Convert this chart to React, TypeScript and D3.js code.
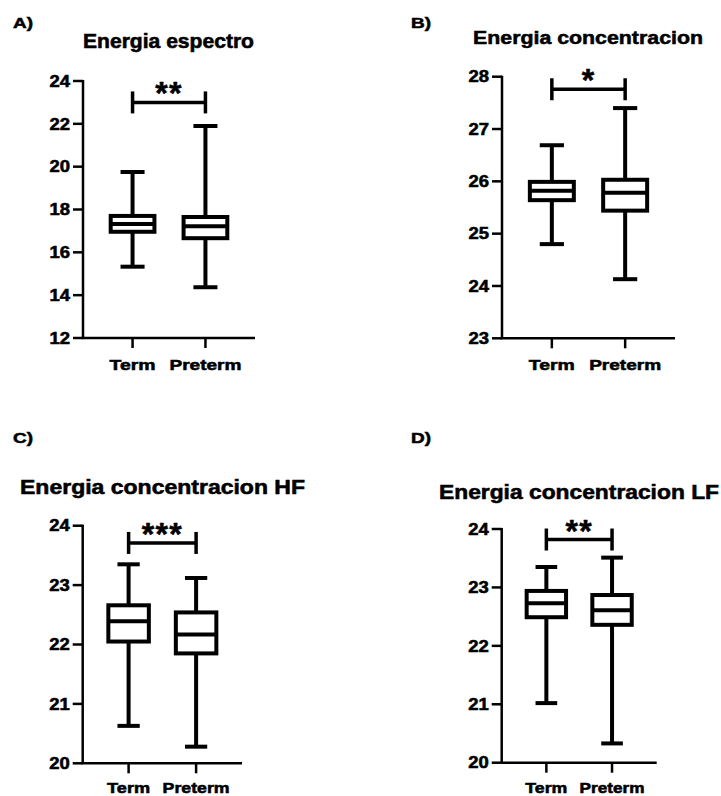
import React from "react";
import * as d3 from "d3";

// Groups compared in every panel
const categories = ["Term", "Preterm"];

// Panel labels, titles and significance marks
const panelIds = ["A)", "B)", "C)", "D)"];
const titles = [
  "Energia espectro",
  "Energia concentracion",
  "Energia concentracion HF",
  "Energia concentracion LF",
];
const significance = ["**", "*", "***", "**"];
// Height (in data units) of each significance bracket
const bracketLevels = [23.0, 27.76, 23.71, 23.82];

// Box statistics per group: [min, q1, median, q3, max]
const espectroTerm = [15.33, 16.96, 17.32, 17.7, 19.75];
const espectroPreterm = [14.37, 16.66, 17.22, 17.65, 21.9];
const concentracionTerm = [24.8, 25.64, 25.82, 25.99, 26.69];
const concentracionPreterm = [24.13, 25.44, 25.78, 26.03, 27.4];
const hfTerm = [20.63, 22.05, 22.39, 22.66, 23.35];
const hfPreterm = [20.28, 21.85, 22.17, 22.54, 23.12];
const lfTerm = [21.02, 22.49, 22.73, 22.94, 23.35];
const lfPreterm = [20.33, 22.36, 22.61, 22.87, 23.51];

// Y axis ticks per panel
const ticksEspectro = [12, 14, 16, 18, 20, 22, 24];
const ticksConcentracion = [23, 24, 25, 26, 27, 28];
const ticksHF = [20, 21, 22, 23, 24];
const ticksLF = [20, 21, 22, 23, 24];

const panelStats = [
  [espectroTerm, espectroPreterm],
  [concentracionTerm, concentracionPreterm],
  [hfTerm, hfPreterm],
  [lfTerm, lfPreterm],
];
const panelTicks = [ticksEspectro, ticksConcentracion, ticksHF, ticksLF];

// Placement of each panel on the page
const layouts = [
  { x0: 83, x1: 255, y0: 81, y1: 338, idX: 13, idY: 28, tX: 168.5, tY: 48, tW: 171, tS: 19.5, lS: 15.5, lW: [46, 72], lY: 32 },
  { x0: 502, x1: 675, y0: 76.7, y1: 338.3, idX: 411, idY: 28, tX: 588, tY: 44, tW: 230, tS: 19, lS: 15.5, lW: [46, 72], lY: 32 },
  { x0: 82.7, x1: 242, y0: 525.7, y1: 763.3, idX: 13, idY: 443, tX: 162.5, tY: 494, tW: 285, tS: 19.5, lS: 15, lW: [43, 67], lY: 29.5 },
  { x0: 501.7, x1: 656.7, y0: 529, y1: 762.7, idX: 411, idY: 443, tX: 579, tY: 499, tW: 280, tS: 19.5, lS: 15, lW: [42, 65], lY: 30 },
];

const FONT = "'Liberation Sans', Arial, Helvetica, sans-serif";
const INK = "#000";
// heavy text: bold face plus a thin outline
const heavy = { fontFamily: FONT, fontWeight: 700, fill: INK, stroke: INK, strokeWidth: 0.55 } as const;

function Panel({ i }: { i: number }) {
  const L = layouts[i];
  const ticks = panelTicks[i];
  const stats = panelStats[i];
  const y = d3
    .scaleLinear()
    .domain([ticks[0], ticks[ticks.length - 1]])
    .range([L.y1, L.y0]);
  const x = d3.scalePoint<string>().domain(categories).range([L.x0, L.x1]).padding(0.68);
  const step = x.step();
  const boxHalf = step * 0.3;
  const capHalf = step * 0.165;
  const by = y(bracketLevels[i]);
  const bxA = x(categories[0])!;
  const bxB = x(categories[1])!;

  return (
    <g>
      <text x={L.idX} y={L.idY} {...heavy} fontSize={15.5}
        textLength={20} lengthAdjust="spacingAndGlyphs">
        {panelIds[i]}
      </text>
      <text x={L.tX} y={L.tY} textAnchor="middle" {...heavy}
        fontSize={L.tS} textLength={L.tW} lengthAdjust="spacingAndGlyphs">
        {titles[i]}
      </text>

      {/* axes */}
      <line x1={L.x0} x2={L.x0} y1={L.y0 - 1} y2={L.y1} stroke={INK} strokeWidth={2.5} />
      <line x1={L.x0 - 1.25} x2={L.x1} y1={L.y1} y2={L.y1} stroke={INK} strokeWidth={2.5} />
      {ticks.map((t) => (
        <g key={t}>
          <line x1={L.x0 - 10} x2={L.x0} y1={y(t)} y2={y(t)} stroke={INK} strokeWidth={2.5} />
          <text x={L.x0 - 13} y={y(t)} dy="0.36em" textAnchor="end" {...heavy}
            fontSize={16} textLength={20.5} lengthAdjust="spacingAndGlyphs">
            {t}
          </text>
        </g>
      ))}
      {categories.map((c, k) => (
        <g key={c}>
          <line x1={x(c)} x2={x(c)} y1={L.y1} y2={L.y1 + 10} stroke={INK} strokeWidth={2.5} />
          <text x={x(c)} y={L.y1 + L.lY} textAnchor="middle" {...heavy}
            fontSize={L.lS} textLength={L.lW[k]} lengthAdjust="spacingAndGlyphs">
            {c}
          </text>
        </g>
      ))}

      {/* box plots */}
      {categories.map((c, k) => {
        const [mn, q1, md, q3, mx] = stats[k];
        const cx = x(c)!;
        return (
          <g key={c} stroke={INK} strokeWidth={4}>
            <line x1={cx} x2={cx} y1={y(mx)} y2={y(mn)} />
            <line x1={cx - capHalf} x2={cx + capHalf} y1={y(mx)} y2={y(mx)} />
            <line x1={cx - capHalf} x2={cx + capHalf} y1={y(mn)} y2={y(mn)} />
            <rect x={cx - boxHalf} y={y(q3)} width={boxHalf * 2} height={y(q1) - y(q3)} fill="#fff" />
            <line x1={cx - boxHalf} x2={cx + boxHalf} y1={y(md)} y2={y(md)} />
          </g>
        );
      })}

      {/* significance bracket */}
      <g stroke={INK} strokeWidth={3.5}>
        <line x1={bxA} x2={bxB} y1={by} y2={by} />
        <line x1={bxA} x2={bxA} y1={by - 11} y2={by + 11} />
        <line x1={bxB} x2={bxB} y1={by - 11} y2={by + 11} />
      </g>
      <text x={(bxA + bxB) / 2} y={by + 2} textAnchor="middle" {...heavy}
        fontSize={32} letterSpacing={1.2}>
        {significance[i]}
      </text>
    </g>
  );
}

export default function App() {
  return (
    <svg width={721} height={796} viewBox="0 0 721 796"
      style={{ position: "absolute", left: 0, top: 0, background: "#fff" }}>
      <rect width={721} height={796} fill="#fff" />
      {layouts.map((_, i) => (
        <Panel key={i} i={i} />
      ))}
    </svg>
  );
}
